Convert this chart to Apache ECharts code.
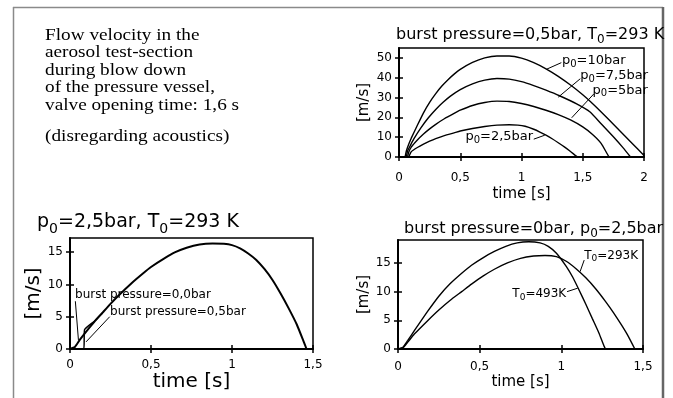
<!DOCTYPE html>
<html>
<head>
<meta charset="utf-8">
<script src="https://cdn.jsdelivr.net/npm/echarts@6/dist/echarts.min.js"></script>
<style>
  body { margin: 0; background: #fff; }
  #chart { width: 673px; height: 398px; }
</style>
</head>
<body>
<div id="chart"></div>
<script>
// top right: burst pressure 0,5bar, T0 = 293 K  [time s, velocity m/s]
const p10 = [[0.05,0],[0.06,3],[0.08,6.5],[0.1,9.5],[0.15,16],[0.2,22.3],[0.25,27.6],[0.3,32],[0.35,35.8],[0.4,39],[0.45,41.8],[0.5,44.2],[0.6,47.7],[0.7,50],[0.8,51],[0.9,51],[1.0,49.9],[1.1,47.6],[1.2,44.5],[1.3,40.7],[1.4,36.3],[1.5,31.4],[1.59,26.4],[1.7,19.7],[1.8,13.4],[1.9,7.1],[2.0,0.8]];
const p75 = [[0.06,0],[0.07,3],[0.09,5.5],[0.12,9],[0.18,14.8],[0.24,19.8],[0.3,24],[0.36,27.6],[0.42,30.7],[0.5,34],[0.6,36.9],[0.7,38.8],[0.8,39.6],[0.9,39.3],[1.0,38],[1.1,36],[1.2,33.7],[1.31,30.9],[1.45,26.8],[1.56,22.7],[1.65,16.8],[1.75,10.2],[1.83,4.6],[1.89,0]];
const p5 = [[0.07,0],[0.08,2.5],[0.1,5],[0.15,8.6],[0.2,11.6],[0.25,14.2],[0.3,16.5],[0.37,19.3],[0.45,22],[0.5,23.6],[0.6,26],[0.7,27.5],[0.8,28.2],[0.9,28],[1.0,27],[1.1,25.5],[1.2,23.6],[1.3,21.4],[1.4,18.7],[1.5,15.2],[1.58,11.4],[1.65,6.9],[1.71,0.5],[1.72,0]];
const p25 = [[0.08,0],[0.09,1.5],[0.1,2.7],[0.15,4.8],[0.2,6.5],[0.25,8],[0.3,9.3],[0.37,10.8],[0.45,12.2],[0.5,13.1],[0.6,14.4],[0.7,15.4],[0.8,16.1],[0.9,16.3],[0.97,16.1],[1.03,15.5],[1.1,14],[1.15,12.6],[1.2,11],[1.25,9.2],[1.3,7.2],[1.35,5.1],[1.4,2.8],[1.45,0.3],[1.46,0]];

// bottom left: p0 = 2,5bar, T0 = 293 K, two burst pressures
const burst00 = [[0,0],[0.03,0.3],[0.06,1.4],[0.1,2.7],[0.15,4.2],[0.2,5.6],[0.25,7],[0.3,8.3],[0.38,10.2],[0.45,11.7],[0.5,12.7],[0.58,14],[0.65,15],[0.72,15.7],[0.8,16.2],[0.88,16.35],[0.95,16.3],[1.0,16.1],[1.05,15.6],[1.1,14.8],[1.15,13.8],[1.2,12.4],[1.25,10.7],[1.3,8.6],[1.35,6.3],[1.4,3.8],[1.44,1.3],[1.46,0]];
const burst05 = [[0,0],[0.085,0],[0.09,3.0],[0.15,4.3],[0.2,5.6]];

// bottom right: burst pressure 0bar, p0 = 2,5bar, two temperatures
const t293 = [[0,0],[0.03,0.2],[0.06,1.2],[0.1,2.6],[0.18,4.9],[0.25,6.8],[0.32,8.5],[0.39,10],[0.45,11.3],[0.52,12.7],[0.59,13.9],[0.67,15],[0.75,15.8],[0.83,16.2],[0.9,16.3],[0.97,16.1],[1.03,15.3],[1.09,14],[1.15,12.4],[1.21,10.5],[1.27,8.3],[1.32,6.3],[1.37,4.1],[1.41,2.2],[1.45,0]];
const t493 = [[0,0],[0.03,0.3],[0.06,1.5],[0.1,3.2],[0.18,6.5],[0.25,9.2],[0.32,11.4],[0.39,13.2],[0.45,14.6],[0.52,15.9],[0.59,17],[0.66,17.9],[0.73,18.5],[0.8,18.7],[0.87,18.5],[0.92,17.9],[0.97,16.7],[1.03,14.4],[1.07,12.5],[1.11,10.2],[1.15,7.8],[1.19,5.3],[1.23,2.8],[1.26,0.6],[1.27,0]];

const ticksTR = [0, 10, 20, 30, 40, 50];
const ticksBottom = [0, 5, 10, 15];

const introLines = [
  'Flow velocity in the',
  'aerosol test-section',
  'during blow down',
  'of the pressure vessel,',
  'valve opening time: 1,6 s',
  '(disregarding acoustics)'
];

const FONT = 'DejaVu Sans';
const chart = echarts.init(document.getElementById('chart'));

function subRich(size, subSize, lift) {
  return {
    n: { fontFamily: FONT, fontSize: size, fontWeight: 'normal', color: '#000', verticalAlign: 'bottom', padding: [0, 0, lift, 0] },
    s: { fontFamily: FONT, fontSize: subSize, fontWeight: 'normal', color: '#000', verticalAlign: 'bottom' }
  };
}

const comma = v => String(v).replace('.', ',');

const rects = [
  { left: 399, top: 48, width: 245, height: 109 },
  { left: 70, top: 238, width: 243, height: 111 },
  { left: 398, top: 240, width: 245, height: 109 }
];
const xMax = [2, 1.5, 1.5];
const yMax = [55, 17.2, 19];
const yTicks = [ticksTR, ticksBottom, ticksBottom];
const nameSize = [15, 20, 15];
const xLabelMargin = [15, 10, 12];
const xNameGap = [30, 22, 26];
const yNameGap = [27, 24, 26];

const grids = [], xAxes = [], yAxes = [];
rects.forEach(r => grids.push(Object.assign({ show: true, borderColor: '#000', borderWidth: 1.5 }, r)));
rects.forEach(r => grids.push(Object.assign({ show: false }, r)));

for (let i = 0; i < 3; i++) {
  xAxes.push({
    type: 'value', gridIndex: i, min: 0, max: xMax[i], interval: 0.5,
    name: 'time [s]', nameLocation: 'middle', nameGap: xNameGap[i],
    nameTextStyle: { fontFamily: FONT, fontSize: nameSize[i], color: '#000' },
    axisLine: { lineStyle: { color: '#000', width: 2 } },
    axisTick: { length: 4, lineStyle: { color: '#000', width: 1.5 } },
    axisLabel: { margin: xLabelMargin[i], fontFamily: FONT, fontSize: 12, color: '#000', formatter: comma },
    splitLine: { show: false }
  });
  yAxes.push({
    type: 'value', gridIndex: i, min: 0, max: yMax[i],
    name: '[m/s]', nameLocation: 'middle', nameGap: yNameGap[i],
    nameTextStyle: { fontFamily: FONT, fontSize: nameSize[i], color: '#000' },
    axisLine: { lineStyle: { color: '#000', width: 2 } },
    axisTick: { length: 4, customValues: yTicks[i], lineStyle: { color: '#000', width: 1.5 } },
    axisLabel: { margin: 7, fontFamily: FONT, fontSize: 12, color: '#000', customValues: yTicks[i] },
    splitLine: { show: false }
  });
}
// inside halves of the crossing ticks
for (let i = 0; i < 3; i++) {
  xAxes.push({
    type: 'value', gridIndex: i + 3, min: 0, max: xMax[i], interval: 0.5,
    axisLine: { show: false }, axisLabel: { show: false }, splitLine: { show: false },
    axisTick: { inside: true, length: 4, lineStyle: { color: '#000', width: 1.5 } }
  });
  yAxes.push({
    type: 'value', gridIndex: i + 3, min: 0, max: yMax[i],
    axisLine: { show: false }, axisLabel: { show: false }, splitLine: { show: false },
    axisTick: { inside: true, length: 4, customValues: yTicks[i], lineStyle: { color: '#000', width: 1.5 } }
  });
}

function line(data, idx, width) {
  return {
    type: 'line', data: data, xAxisIndex: idx, yAxisIndex: idx,
    showSymbol: false, symbol: 'none', smooth: 0.15,
    lineStyle: { color: '#000', width: width }, silent: true
  };
}

const graphics = [
  { type: 'line', shape: { x1: 13.5, y1: 7, x2: 13.5, y2: 398 }, style: { stroke: '#8a8a8a', lineWidth: 1.5 } },
  { type: 'line', shape: { x1: 13, y1: 7.5, x2: 663, y2: 7.5 }, style: { stroke: '#8a8a8a', lineWidth: 1.5 } },
  { type: 'line', shape: { x1: 663, y1: 7, x2: 663, y2: 398 }, style: { stroke: '#666', lineWidth: 2.5 } }
];
const introY = [35, 52.5, 70, 87.5, 105, 136.5];
introLines.forEach((t, k) => {
  graphics.push({
    type: 'text', x: 45, y: introY[k], scaleX: 1.1,
    style: { text: t, font: '17.5px "Liberation Serif"', fill: '#000', verticalAlign: 'middle' }
  });
});

chart.setOption({
  animation: false,
  backgroundColor: '#fff',
  title: [
    { left: 391, top: 22, text: '{n|burst pressure=0,5bar, T}{s|0}{n|=293 K}', textStyle: { rich: subRich(16, 12, 3) } },
    { left: 32, top: 208, text: '{n|p}{s|0}{n|=2,5bar, T}{s|0}{n|=293 K}', textStyle: { rich: subRich(19, 14, 4) } },
    { left: 399, top: 216, text: '{n|burst pressure=0bar, p}{s|0}{n|=2,5bar}', textStyle: { rich: subRich(16, 12, 3) } }
  ],
  grid: grids,
  xAxis: xAxes,
  yAxis: yAxes,
  series: [
    line(p10, 0, 1.4), line(p75, 0, 1.4), line(p5, 0, 1.4), line(p25, 0, 1.4),
    line(burst00, 1, 2), line(burst05, 1, 1.5),
    line(t293, 2, 1.4), line(t493, 2, 1.4)
  ],
  graphic: graphics
});

// annotations in data coordinates: text anchor, leader from curve to text
const notes = [
  { g: 0, text: '{n|p}{s|0}{n|=10bar}', at: [1.33, 48.2], align: 'left', from: [1.205, 44.3], to: [1.325, 47.6], size: 13 },
  { g: 0, text: '{n|p}{s|0}{n|=7,5bar}', at: [1.48, 40.5], align: 'left', from: [1.30, 30.2], to: [1.48, 39.5], size: 13 },
  { g: 0, text: '{n|p}{s|0}{n|=5bar}', at: [1.58, 33.2], align: 'left', from: [1.41, 19.8], to: [1.59, 31.8], size: 13 },
  { g: 0, text: '{n|p}{s|0}{n|=2,5bar}', at: [1.095, 9.8], align: 'right', from: [1.19, 11.0], to: [1.1, 9.0], size: 13 },
  { g: 1, text: '{n|burst pressure=0,0bar}', at: [0.031, 8.2], align: 'left', from: [0.052, 1.4], to: [0.033, 7.4], size: 12 },
  { g: 1, text: '{n|burst pressure=0,5bar}', at: [0.247, 5.6], align: 'left', from: [0.099, 1.1], to: [0.245, 5.0], size: 12 },
  { g: 2, text: '{n|T}{s|0}{n|=293K}', at: [1.14, 16.1], align: 'left', from: [1.115, 13.5], to: [1.14, 15.5], size: 12 },
  { g: 2, text: '{n|T}{s|0}{n|=493K}', at: [1.03, 9.4], align: 'right', from: [1.10, 10.6], to: [1.035, 10.0], size: 12 }
];
notes.forEach(n => {
  const a = chart.convertToPixel({ gridIndex: n.g }, n.at);
  const f = chart.convertToPixel({ gridIndex: n.g }, n.from);
  const t = chart.convertToPixel({ gridIndex: n.g }, n.to);
  graphics.push({ type: 'line', shape: { x1: f[0], y1: f[1], x2: t[0], y2: t[1] }, style: { stroke: '#000', lineWidth: 1 } });
  graphics.push({
    type: 'text', x: a[0], y: a[1],
    style: { text: n.text, rich: subRich(n.size, n.size - 3, 2), align: n.align, verticalAlign: 'middle', fill: '#000' }
  });
});
chart.setOption({ graphic: graphics });
</script>
</body>
</html>
